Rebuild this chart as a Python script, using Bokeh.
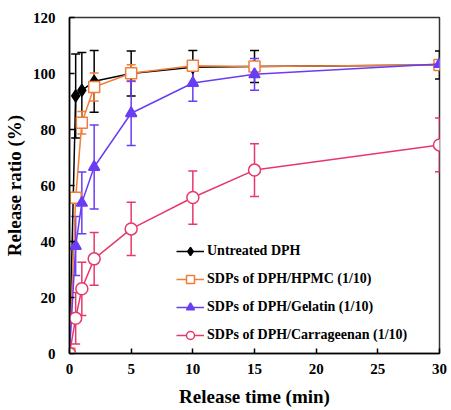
import numpy as np
from bokeh.plotting import figure
from bokeh.models import ColumnDataSource, Whisker, TeeHead, Legend, LegendItem, FixedTicker, Range1d
from bokeh.embed import file_html
from bokeh.resources import INLINE

# Data
time = [0, 0.5, 1, 2, 5, 10, 15, 30]
untreated = [0, 92.0, 94.0, 97.2, 100.0, 102.2, 102.5, 103.0]
untreated_err = [0, 15.0, 13.5, 11.0, 8.0, 6.0, 5.7, 5.0]
hpmc = [0, 55.6, 82.4, 95.2, 100.1, 102.8, 102.5, 103.0]
hpmc_err = [0, 1.5, 4.0, 5.0, 3.0, 1.5, 1.0, 1.0]
gelatin = [0, 38.4, 53.8, 66.6, 85.8, 96.6, 99.7, 103.4]
gelatin_err = [0, 10.5, 11.0, 15.0, 11.5, 6.5, 5.7, 1.0]
carrageenan = [0, 12.6, 23.1, 33.8, 44.5, 55.7, 65.5, 74.5]
carrageenan_err = [0, 9.2, 9.5, 9.4, 9.5, 9.5, 9.4, 9.6]

labels = ["Untreated DPH", "SDPs of DPH/HPMC (1/10)", "SDPs of DPH/Gelatin (1/10)",
          "SDPs of DPH/Carrageenan (1/10)"]
x_ticks = [0, 5, 10, 15, 20, 25, 30]
y_ticks = [0, 20, 40, 60, 80, 100, 120]

FONT = "Liberation Serif"

p = figure(frame_width=370, frame_height=336, output_backend="svg", toolbar_location=None,
           x_range=Range1d(0, 30), y_range=Range1d(0, 120),
           min_border_left=63, min_border_top=17, min_border_right=9, min_border_bottom=10)
p.outline_line_color = "#333333"
p.outline_line_width = 1.5
p.grid.visible = False
p.background_fill_color = "white"
p.border_fill_color = "white"

for ax in (p.xaxis[0], p.yaxis[0]):
    ax.major_tick_in = 5
    ax.major_tick_out = 0
    ax.minor_tick_line_color = None
    ax.axis_line_color = "black"
    ax.axis_line_width = 1.5
    ax.major_tick_line_color = "black"
    ax.major_tick_line_width = 1.5
    ax.major_label_text_font = FONT
    ax.major_label_text_font_style = "bold"
    ax.major_label_text_font_size = "15px"
    ax.major_label_text_color = "black"
    ax.axis_label_text_font = FONT
    ax.axis_label_text_font_style = "bold"
    ax.axis_label_text_font_size = "19px"
    ax.axis_label_text_color = "black"

p.xaxis.ticker = FixedTicker(ticks=x_ticks)
p.yaxis.ticker = FixedTicker(ticks=y_ticks)
p.xaxis.axis_label = "Release time (min)"
p.yaxis.axis_label = "Release ratio (%)"
p.xaxis.major_label_standoff = 10
p.yaxis.major_label_standoff = 14
p.xaxis.axis_label_standoff = 9
p.yaxis.axis_label_standoff = 5

series = [
    (untreated, untreated_err, "black", "diamond", 12, "black"),
    (hpmc, hpmc_err, "#F07D3A", "square", 11, "white"),
    (gelatin, gelatin_err, "#6A3DF5", "triangle", 11, "#6A3DF5"),
    (carrageenan, carrageenan_err, "#E6396B", "circle", 12, "white"),
]

items = []
for (vals, err, color, marker, size, fill), lab in zip(series, labels):
    v = np.array(vals, dtype=float)
    e = np.array(err, dtype=float)
    src = ColumnDataSource(dict(x=time, y=v, lo=v - e, hi=v + e))
    w = Whisker(source=src, base="x", lower="lo", upper="hi", line_color=color, line_width=1.5,
                upper_head=TeeHead(size=9, line_color=color, line_width=1.5),
                lower_head=TeeHead(size=9, line_color=color, line_width=1.5))
    p.add_layout(w)
    p.line("x", "y", source=src, line_color=color, line_width=1.5)
    p.scatter("x", "y", source=src, marker=marker, size=size, line_color=color,
              fill_color=fill, line_width=1.5)
    # legend proxy (smaller markers)
    lr = p.line([np.nan], [np.nan], line_color=color, line_width=1.5)
    ls = p.scatter([np.nan], [np.nan], marker=marker, size=9, line_color=color,
                   fill_color=fill, line_width=1.5)
    items.append(LegendItem(label=lab, renderers=[lr, ls]))

legend = Legend(items=items, location=(107, 8))
legend.border_line_color = None
legend.background_fill_alpha = 0
legend.label_text_font = FONT
legend.label_text_font_style = "bold"
legend.label_text_font_size = "14px"
legend.label_text_color = "black"
legend.glyph_width = 28
legend.glyph_height = 20
legend.spacing = 8
legend.label_standoff = 3
legend.padding = 0
legend.margin = 0
p.add_layout(legend, "center")

open("out.html", "w").write(file_html(p, INLINE))
